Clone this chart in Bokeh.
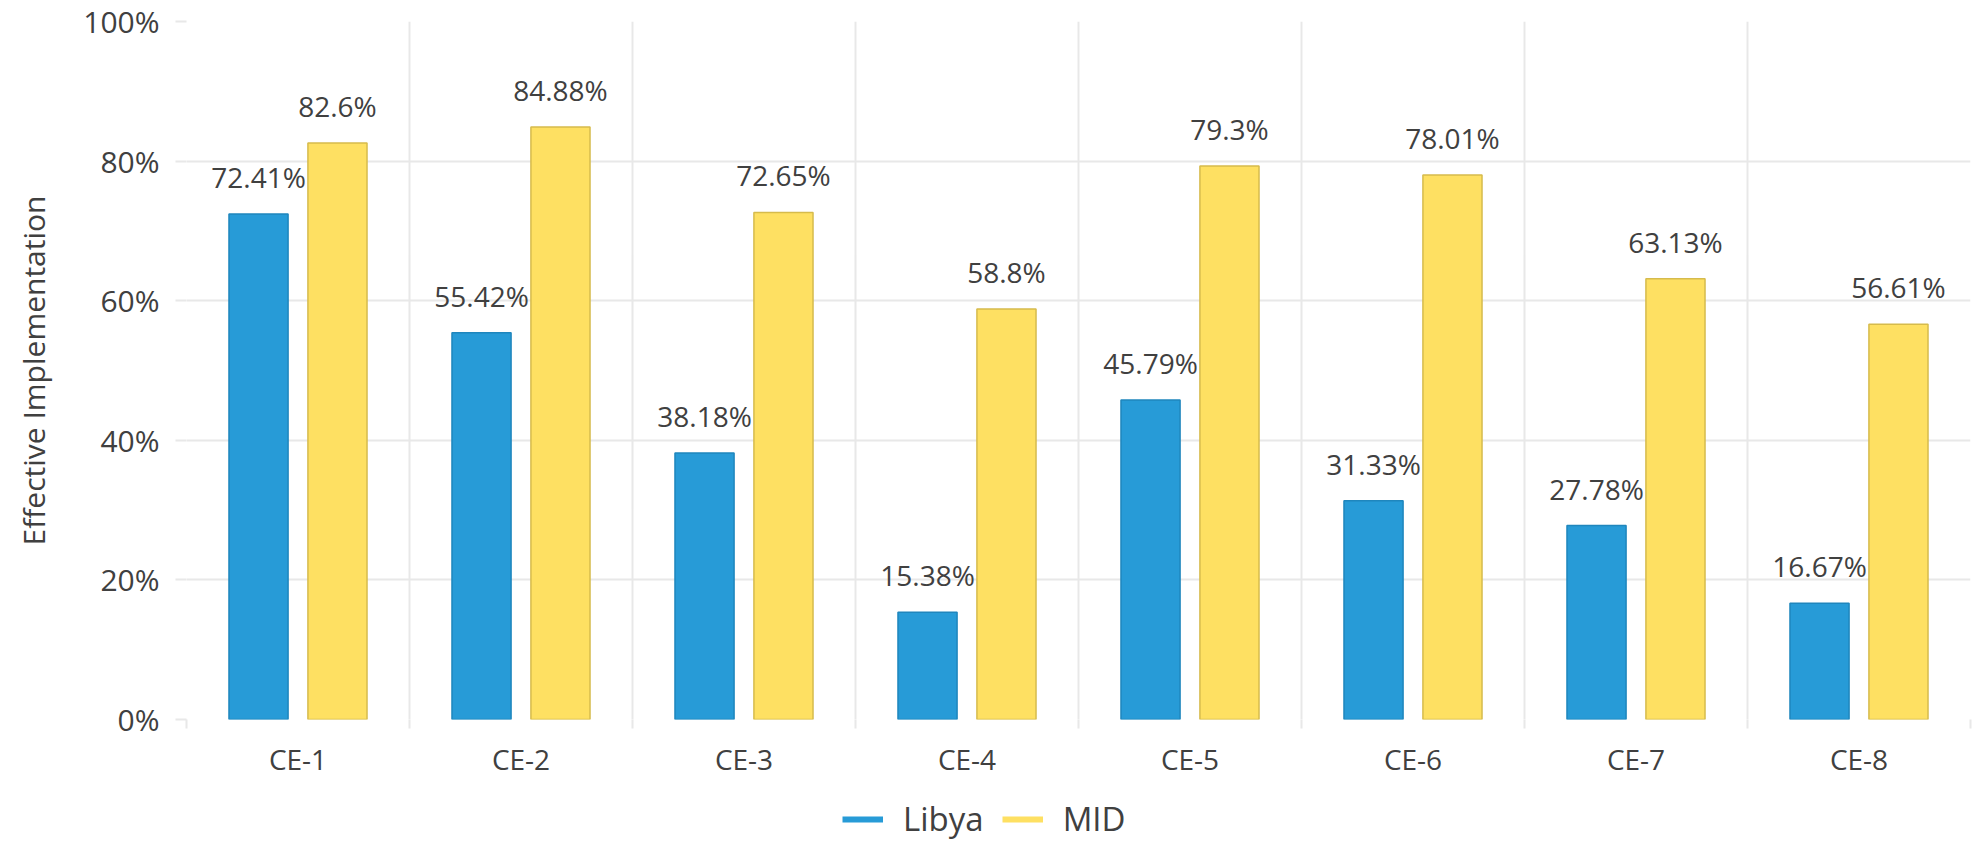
from bokeh.plotting import figure
from bokeh.models import (ColumnDataSource, FixedTicker, PrintfTickFormatter,
                          Legend, LegendItem, Range1d)
from bokeh.layouts import column
from bokeh.core.properties import value
from bokeh.embed import file_html
from bokeh.resources import INLINE
import numpy as np

categories = ["CE-1", "CE-2", "CE-3", "CE-4", "CE-5", "CE-6", "CE-7", "CE-8"]
libya = [72.41, 55.42, 38.18, 15.38, 45.79, 31.33, 27.78, 16.67]
mid = [82.6, 84.88, 72.65, 58.8, 79.3, 78.01, 63.13, 56.61]
y_ticks = [0, 20, 40, 60, 80, 100]
series_names = ["Libya", "MID"]

FONT = "Open Sans"
TXT = "#404040"
GRID = "#e8e8e8"
BLUE, BLUE_LINE = "#279bd7", "#1f86bd"
YEL, YEL_LINE = "#fee062", "#d6bb4c"

n = len(categories)
centers = np.arange(n) + 0.5
dodge = 0.177
bw = 0.265

src = ColumnDataSource(dict(
    xl=centers - dodge, xm=centers + dodge,
    libya=libya, mid=mid,
    tl=[f"{v:g}%" for v in libya], tm=[f"{v:g}%" for v in mid],
))

BL, BR = 186, 2

p = figure(width=1972, height=795, output_backend="svg", toolbar_location=None,
           x_range=Range1d(0, n), y_range=Range1d(0, 100),
           min_border_left=BL, min_border_right=BR, min_border_top=21,
           min_border_bottom=76)
p.outline_line_color = None
p.background_fill_color = "white"

p.vbar(x="xl", top="libya", width=bw, source=src, fill_color=BLUE,
       line_color=BLUE_LINE, line_width=1.5)
p.vbar(x="xm", top="mid", width=bw, source=src, fill_color=YEL,
       line_color=YEL_LINE, line_width=1.5)

for xcol, ycol, tcol in (("xl", "libya", "tl"), ("xm", "mid", "tm")):
    p.text(x=xcol, y=ycol, text=tcol, source=src, text_align="center",
           text_baseline="alphabetic", y_offset=-37,
           text_font=value(FONT), text_font_size="28px", text_color=TXT)

# x axis
xa = p.xaxis[0]
xa.ticker = FixedTicker(ticks=list(centers), minor_ticks=list(range(n + 1)))
xa.major_label_overrides = {float(c): lab for c, lab in zip(centers, categories)}
xa.major_tick_line_color = None
xa.minor_tick_line_color = GRID
xa.minor_tick_line_width = 2
xa.minor_tick_out = 9
xa.minor_tick_in = 0
xa.axis_line_color = None
xa.major_label_standoff = 11
xa.major_label_text_font = FONT
xa.major_label_text_font_size = "28px"
xa.major_label_text_color = TXT

# y axis
ya = p.yaxis[0]
ya.ticker = FixedTicker(ticks=y_ticks)
ya.formatter = PrintfTickFormatter(format="%d%%")
ya.axis_line_color = None
ya.minor_tick_line_color = None
ya.major_tick_line_color = GRID
ya.major_tick_line_width = 2
ya.major_tick_out = 11
ya.major_tick_in = 0
ya.major_label_standoff = 16
ya.major_label_text_font = FONT
ya.major_label_text_font_size = "30px"
ya.major_label_text_color = TXT
ya.axis_label = "Effective Implementation"
ya.axis_label_text_font = FONT
ya.axis_label_text_font_size = "30px"
ya.axis_label_text_font_style = "normal"
ya.axis_label_text_color = TXT
ya.axis_label_standoff = 26

# grids
p.xgrid.grid_line_color = None
p.xgrid.minor_grid_line_color = GRID
p.xgrid.minor_grid_line_width = 2
p.ygrid.grid_line_color = GRID
p.ygrid.grid_line_width = 2

# legend strip (separate figure below the chart)
lg = figure(width=1972, height=48, output_backend="svg", toolbar_location=None,
            x_range=Range1d(0, 1), y_range=Range1d(0, 1),
            x_axis_location=None, y_axis_location=None,
            min_border_left=BL, min_border_right=BR,
            min_border_top=0, min_border_bottom=0)
lg.outline_line_color = None
lg.xgrid.visible = False
lg.ygrid.visible = False
proxy = ColumnDataSource(dict(x=[np.nan], y=[np.nan]))
lb = lg.line("x", "y", source=proxy, line_color=BLUE, line_width=6)
ly = lg.line("x", "y", source=proxy, line_color=YEL, line_width=6)
legend = Legend(items=[LegendItem(label=series_names[0], renderers=[lb]),
                       LegendItem(label=series_names[1], renderers=[ly])],
                orientation="horizontal", location=(842 - BL, 2),
                padding=0, margin=0, spacing=18, label_standoff=20,
                glyph_width=41, glyph_height=44, label_height=44,
                border_line_color=None, background_fill_alpha=0,
                label_text_font=FONT, label_text_font_size="33px",
                label_text_color=TXT)
lg.add_layout(legend, "center")

layout = column(p, lg, spacing=0)
open("out.html", "w").write(file_html(layout, INLINE))
